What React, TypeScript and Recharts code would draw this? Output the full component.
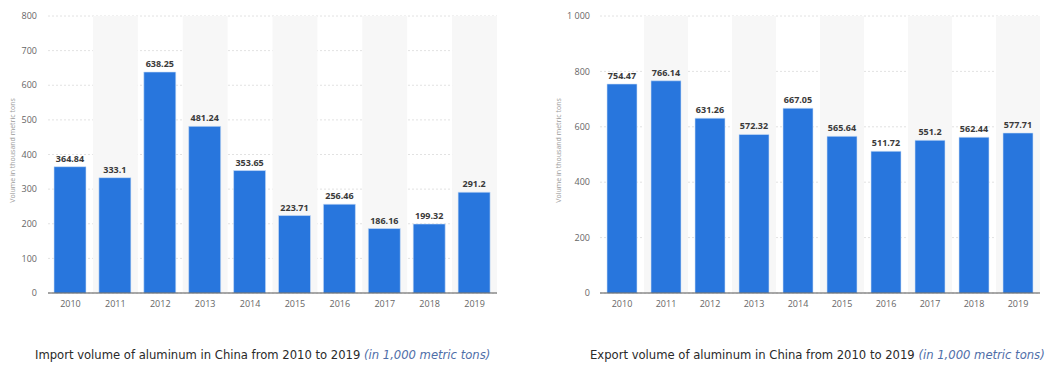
import React from "react";
import {
  BarChart,
  Bar,
  XAxis,
  YAxis,
  CartesianGrid,
  ReferenceArea,
  LabelList,
} from "recharts";

const YEARS = ["2010", "2011", "2012", "2013", "2014", "2015", "2016", "2017", "2018", "2019"];
const IMPORT_VALUES = [364.84, 333.1, 638.25, 481.24, 353.65, 223.71, 256.46, 186.16, 199.32, 291.2];
const EXPORT_VALUES = [754.47, 766.14, 631.26, 572.32, 667.05, 565.64, 511.72, 551.2, 562.44, 577.71];
const IMPORT_TICKS = [0, 100, 200, 300, 400, 500, 600, 700, 800];
const EXPORT_TICKS = [0, 200, 400, 600, 800, 1000];
const SHADED_YEARS = ["2011", "2013", "2015", "2017", "2019"];

const BAR_COLOR = "#2876dd";
const FONT = "'Open Sans', 'DejaVu Sans', sans-serif";

const fmtThousands = (v: number) => (v >= 1000 ? `${Math.floor(v / 1000)} ${String(v % 1000).padStart(3, "0")}` : String(v));

function YLabel({ viewBox, x }: { viewBox?: { y: number; height: number }; x: number }) {
  if (!viewBox) return null;
  const cy = viewBox.y + viewBox.height / 2 - 4;
  return (
    <text
      x={x}
      y={cy}
      transform={`rotate(-90 ${x} ${cy})`}
      textAnchor="middle"
      dominantBaseline="central"
      fontSize={7}
      fill="#9a9a9a"
      fontFamily={FONT}
    >
      Volume in thousand metric tons
    </text>
  );
}

interface PanelProps {
  values: number[];
  ticks: number[];
  max: number;
  width: number;
  yAxisWidth: number;
  rightMargin: number;
  labelX: number;
  tickMargin: number;
  barSize: number;
}

function Panel({ values, ticks, max, width, yAxisWidth, rightMargin, labelX, tickMargin, barSize }: PanelProps) {
  const data = YEARS.map((year, i) => ({ year, value: values[i] }));
  return (
    <BarChart
      width={width}
      height={320}
      data={data}
      margin={{ top: 16, right: rightMargin, bottom: 0, left: 0 }}
      style={{ fontFamily: FONT }}
    >
      {SHADED_YEARS.map((y) => (
        <ReferenceArea key={y} x1={y} x2={y} fill="#f7f7f7" fillOpacity={1} stroke="none" />
      ))}
      <CartesianGrid vertical={false} stroke="#e2e2e2" strokeDasharray="2 2" />
      <XAxis
        dataKey="year"
        height={27}
        tickLine={false}
        axisLine={{ stroke: "#555", strokeWidth: 1 }}
        tick={{ fontSize: 9, fill: "#666" }}
        tickSize={0}
        tickMargin={8}
      />
      <YAxis
        width={yAxisWidth}
        domain={[0, max]}
        ticks={ticks}
        interval={0}
        axisLine={false}
        tickLine={false}
        tickSize={0}
        tickMargin={tickMargin}
        tick={{ fontSize: 9, fill: "#666" }}
        tickFormatter={fmtThousands}
        label={(props: any) => <YLabel viewBox={props.viewBox} x={labelX} />}
      />
      <Bar dataKey="value" fill={BAR_COLOR} stroke="#cfe0f7" strokeWidth={0.6} barSize={barSize} isAnimationActive={false}>
        <LabelList
          dataKey="value"
          position="top"
          offset={5}
          style={{ fontSize: 9, fontWeight: 700, fill: "#3a3a3a", fontFamily: FONT }}
        />
      </Bar>
    </BarChart>
  );
}

const captionStyle: React.CSSProperties = {
  position: "absolute",
  top: 347,
  fontFamily: "'DejaVu Sans Condensed', 'DejaVu Sans', sans-serif",
  fontSize: 12.9,
  lineHeight: "16px",
  color: "#2a2a2a",
  whiteSpace: "nowrap",
};

export default function App() {
  return (
    <div
      style={{
        position: "absolute",
        left: 0,
        top: 0,
        width: 1046,
        height: 367,
        background: "#fff",
        overflow: "hidden",
      }}
    >
      <div style={{ position: "absolute", left: 0, top: 0 }}>
        <Panel
          values={IMPORT_VALUES}
          ticks={IMPORT_TICKS}
          max={800}
          width={510}
          yAxisWidth={48}
          rightMargin={13}
          labelX={12}
          tickMargin={11}
          barSize={32}
        />
      </div>
      <div style={{ position: "absolute", left: 530, top: 0 }}>
        <Panel
          values={EXPORT_VALUES}
          ticks={EXPORT_TICKS}
          max={1000}
          width={516}
          yAxisWidth={70}
          rightMargin={6}
          labelX={28}
          tickMargin={10}
          barSize={30}
        />
      </div>
      <div style={{ ...captionStyle, left: 35 }}>
        Import volume of aluminum in China from 2010 to 2019{" "}
        <i style={{ color: "#4f6ea8" }}>(in 1,000 metric tons)</i>
      </div>
      <div style={{ ...captionStyle, left: 590 }}>
        Export volume of aluminum in China from 2010 to 2019{" "}
        <i style={{ color: "#4f6ea8" }}>(in 1,000 metric tons)</i>
      </div>
    </div>
  );
}
